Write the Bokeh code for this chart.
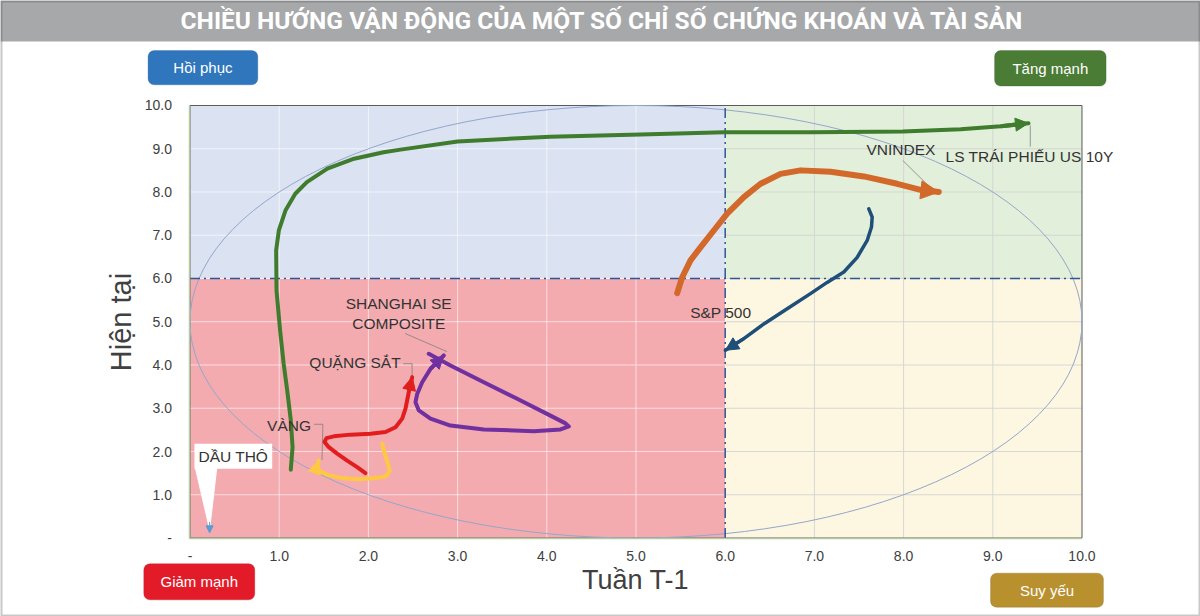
from bokeh.plotting import figure
from bokeh.models import (Range1d, FixedTicker, Label, Arrow, NormalHead, BoxAnnotation)
from bokeh.embed import file_html
from bokeh.resources import INLINE

# ---------------- data ----------------
ticks = [0, 1, 2, 3, 4, 5, 6, 7, 8, 9, 10]
tick_labels = ["-", "1.0", "2.0", "3.0", "4.0", "5.0", "6.0", "7.0", "8.0", "9.0", "10.0"]
threshold = 6.0

# LS TRÁI PHIẾU US 10Y
us10y_x = [1.13, 1.15, 1.13, 1.09, 1.05, 1.01, 0.97, 0.966, 0.996, 1.07, 1.18, 1.31, 1.54, 1.84,
           2.17, 2.36, 3.00, 4.04, 5.05, 5.99, 6.98, 7.99, 8.64, 9.09, 9.40]
us10y_y = [1.58, 2.10, 2.72, 3.41, 4.03, 4.80, 5.72, 6.65, 7.11, 7.57, 7.96, 8.23, 8.54, 8.77,
           8.92, 8.98, 9.17, 9.28, 9.33, 9.38, 9.38, 9.40, 9.45, 9.52, 9.59]

# VNINDEX
vn_x = [5.462, 5.518, 5.611, 5.723, 5.872, 6.022, 6.209, 6.396, 6.620, 6.844, 7.181, 7.554, 7.928, 8.190, 8.395]
vn_y = [5.66, 6.03, 6.42, 6.72, 7.11, 7.50, 7.88, 8.19, 8.42, 8.50, 8.47, 8.36, 8.19, 8.05, 8.00]

# S&P 500
sp_x = [7.610, 7.648, 7.640, 7.592, 7.480, 7.330, 7.143, 6.956, 6.695, 6.433, 6.209, 6.003]
sp_y = [7.61, 7.42, 7.19, 6.88, 6.49, 6.15, 5.91, 5.65, 5.30, 4.95, 4.61, 4.34]

# SHANGHAI SE COMPOSITE
sh_x = [2.677, 2.920, 3.294, 3.668, 4.041, 4.210, 4.247, 4.154, 3.854, 3.294, 2.920, 2.696,
        2.565, 2.528, 2.547, 2.603, 2.696, 2.845]
sh_y = [4.26, 3.99, 3.60, 3.22, 2.83, 2.65, 2.58, 2.51, 2.47, 2.51, 2.60, 2.76,
        2.95, 3.14, 3.33, 3.60, 3.91, 4.22]

# QUẶNG SẮT
ore_x = [1.967, 1.874, 1.762, 1.650, 1.556, 1.508, 1.530, 1.612, 1.799, 2.024, 2.192, 2.304,
         2.379, 2.416, 2.442, 2.464, 2.491]
ore_y = [1.50, 1.64, 1.79, 1.95, 2.10, 2.22, 2.31, 2.35, 2.39, 2.41, 2.45, 2.56,
         2.76, 2.99, 3.26, 3.49, 3.72]

# VÀNG
gold_x = [2.155, 2.184, 2.218, 2.240, 2.192, 2.061, 1.874, 1.687, 1.538, 1.444, 1.426, 1.444]
gold_y = [2.18, 1.95, 1.72, 1.55, 1.42, 1.38, 1.36, 1.39, 1.46, 1.56, 1.68, 1.79]

# DẦU THÔ
oil_x = [0.22]
oil_y = [0.12]

# ---------------- figure ----------------
XR = (-2.1244, 11.3285)
YR = (-1.815, 12.4277)
p = figure(width=1200, height=616, output_backend="svg", toolbar_location=None,
           x_range=Range1d(*XR), y_range=Range1d(*YR),
           min_border_left=0, min_border_right=0, min_border_top=0, min_border_bottom=0)
p.background_fill_color = "white"
p.border_fill_color = "white"
p.outline_line_color = None

# quadrant backgrounds
p.quad(left=[0], right=[threshold], bottom=[threshold], top=[10], fill_color="#dbe2f1", line_color=None, level="image")
p.quad(left=[threshold], right=[10], bottom=[threshold], top=[10], fill_color="#e2efda", line_color=None, level="image")
p.quad(left=[0], right=[threshold], bottom=[0], top=[threshold], fill_color="#f4abaf", line_color=None, level="image")
p.quad(left=[threshold], right=[10], bottom=[0], top=[threshold], fill_color="#fdf7e2", line_color=None, level="image")

# grid (inside the plotting square only): lighter on the left half, grey on the right half
p.grid.visible = False
inner = [t for t in ticks if 0 < t < 10]
left_v = [t for t in inner if t < threshold]
right_v = [t for t in inner if t > threshold]
p.segment(x0=left_v, y0=[0] * len(left_v), x1=left_v, y1=[10] * len(left_v),
          line_color="white", line_alpha=0.6, line_width=1, level="underlay")
p.segment(x0=right_v, y0=[0] * len(right_v), x1=right_v, y1=[10] * len(right_v),
          line_color="#d6d6d3", line_width=1, level="underlay")
p.segment(x0=[0] * len(inner), y0=inner, x1=[threshold] * len(inner), y1=inner,
          line_color="white", line_alpha=0.6, line_width=1, level="underlay")
p.segment(x0=[threshold] * len(inner), y0=inner, x1=[10] * len(inner), y1=inner,
          line_color="#d6d6d3", line_width=1, level="underlay")

# plot square outline
p.quad(left=[0], right=[10], bottom=[0], top=[10], fill_color=None, line_color="#5a5a5a", line_width=1)

# axes drawn at the plotting square
for ax in (p.xaxis, p.yaxis):
    ax.fixed_location = 0
    ax.bounds = (0, 10)
    ax.ticker = FixedTicker(ticks=ticks)
    ax.major_label_overrides = {t: l for t, l in zip(ticks, tick_labels)}
    ax.major_tick_line_color = None
    ax.minor_tick_line_color = None
    ax.axis_line_color = "#b7c8a2"
    ax.axis_line_width = 1.5
    ax.major_label_text_font = "Liberation Sans"
    ax.major_label_text_font_size = "14px"
    ax.major_label_text_color = "#404040"
    ax.axis_label_text_font = "Liberation Sans"
    ax.axis_label_text_font_style = "normal"
    ax.axis_label_text_color = "#404040"
p.xaxis.axis_label = "Tuần T-1"
p.yaxis.axis_label = "Hiện tại"
p.xaxis.axis_label_text_font_size = "27px"
p.yaxis.axis_label_text_font_size = "29px"
p.xaxis.major_label_standoff = 7
p.yaxis.major_label_standoff = 12
p.xaxis.axis_label_standoff = 0
p.yaxis.axis_label_standoff = 4

# circle boundary
p.ellipse(x=[5], y=[5], width=[10], height=[10], fill_color=None, line_color="#93a6cc", line_width=1)

# threshold lines
p.segment(x0=[threshold], y0=[0], x1=[threshold], y1=[10], line_color="#2e5597", line_width=1.5, line_dash="10 4 2 4")
p.segment(x0=[0], y0=[threshold], x1=[10], y1=[threshold], line_color="#2e5597", line_width=1.5, line_dash="10 4 2 4")

# callout for DAU THO
p.patch([0.06, 0.30, 0.22], [1.62, 1.62, 0.2], fill_color="white", line_color="white")
p.add_layout(Arrow(end=NormalHead(size=7, fill_color="#5b9bd5", line_color="#5b9bd5"),
                   x_start=oil_x[0], y_start=oil_y[0] + 0.25, x_end=oil_x[0], y_end=oil_y[0],
                   line_color="#5b9bd5", line_width=1))

# leader lines
lead_col = "#808080"
p.line([1.39, 1.49, 1.48], [2.63, 2.63, 1.80], line_color=lead_col, line_width=0.8)
p.line([2.39, 2.49, 2.49], [4.03, 4.03, 3.73], line_color=lead_col, line_width=0.8)
p.line([2.41, 2.88], [4.73, 4.31], line_color=lead_col, line_width=0.8)
p.line([7.99, 8.37], [8.73, 7.96], line_color=lead_col, line_width=0.8)
p.line([9.42, 9.42], [9.54, 9.05], line_color=lead_col, line_width=0.8)

# series
series = [
    (us10y_x, us10y_y, "#3f7c2e", 4, 13),
    (vn_x, vn_y, "#d2692a", 6, 18),
    (sp_x, sp_y, "#1f4e79", 3.5, 13),
    (sh_x, sh_y, "#7030a0", 4, 13),
    (ore_x, ore_y, "#e21d1d", 4, 13),
    (gold_x, gold_y, "#ffc843", 4, 13),
]
for xs, ys, col, lw, hs in series:
    p.line(xs, ys, line_color=col, line_width=lw, line_cap="round", line_join="round")
    p.add_layout(Arrow(end=NormalHead(size=hs, fill_color=col, line_color=col),
                       x_start=xs[-2], y_start=ys[-2], x_end=xs[-1], y_end=ys[-1],
                       line_color=col, line_width=lw))

# text labels
def lab(x, y, t, align="center", **kw):
    l = Label(x=x, y=y, text=t, text_align=align, text_baseline="middle",
              text_font="Liberation Sans", text_font_size="15.5px", text_color="#333333", **kw)
    p.add_layout(l)
    return l

lab(0.05, 1.89, "DẦU THÔ", align="left", background_fill_color="white", padding=4)
lab(1.11, 2.59, "VÀNG")
lab(1.85, 4.06, "QUẶNG SẮT")
lab(2.34, 5.43, "SHANGHAI SE")
lab(2.34, 4.96, "COMPOSITE")
lab(5.95, 5.22, "S&P 500")
lab(7.97, 8.98, "VNINDEX")
lab(8.47, 8.83, "LS TRÁI PHIẾU US 10Y", align="left")

# title bar
p.add_layout(BoxAnnotation(left=XR[0], right=XR[1], bottom=11.48, top=YR[1],
                           fill_color="#a7a8aa", fill_alpha=1, line_color=None))
p.add_layout(Label(x=4.62, y=11.96, text="CHIỀU HƯỚNG VẬN ĐỘNG CỦA MỘT SỐ CHỈ SỐ CHỨNG KHOÁN VÀ TÀI SẢN",
                   text_align="center", text_baseline="middle", text_font="Roboto",
                   text_font_style="bold", text_font_size="24.5px", text_color="white"))

# outer frame of the picture
p.add_layout(BoxAnnotation(left=XR[0], right=XR[1], bottom=YR[0], top=YR[1],
                           fill_alpha=0, line_color="#4a4a4a", line_width=4))

# quadrant buttons: (left, right, bottom, top, text, fill, border)
buttons = [
    (-0.470, 0.760, 10.48, 11.27, "Hồi phục", "#2f76bd", "#245d96"),
    (9.020, 10.270, 10.45, 11.27, "Tăng mạnh", "#4b7c35", "#3a6128"),
    (-0.518, 0.726, -1.430, -0.594, "Giảm mạnh", "#e31b29", "#b0131e"),
    (8.975, 10.24, -1.600, -0.813, "Suy yếu", "#b8902e", "#7f6220"),
]
for bl, br, bb, bt, btxt, bc, blc in buttons:
    p.add_layout(BoxAnnotation(left=bl, right=br, bottom=bb, top=bt, fill_color=bc, fill_alpha=1,
                               line_color=blc, line_width=1, border_radius=6))
    p.add_layout(Label(x=(bl + br) / 2, y=(bb + bt) / 2, text=btxt, text_align="center",
                       text_baseline="middle", text_font="Liberation Sans", text_font_size="15px",
                       text_color="white"))

open("out.html", "w").write(file_html(p, INLINE))
